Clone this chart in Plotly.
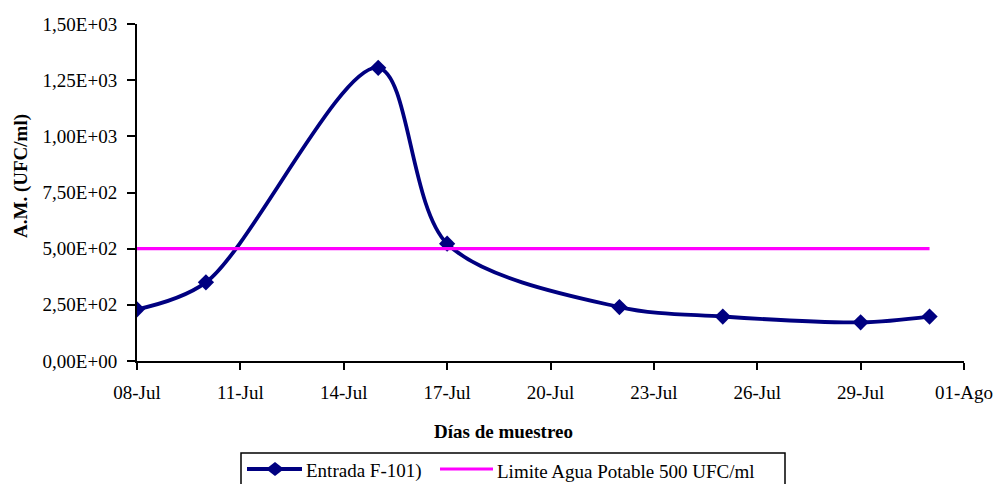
import plotly.graph_objects as go

dates = ["2024-07-08", "2024-07-10", "2024-07-15", "2024-07-17",
         "2024-07-22", "2024-07-25", "2024-07-29", "2024-07-31"]
entrada = [230, 350, 1305, 522, 240, 198, 172, 198]
limite = [500, 500, 500, 500, 500, 500, 500, 500]

xtick_vals = ["2024-07-08", "2024-07-11", "2024-07-14", "2024-07-17", "2024-07-20",
              "2024-07-23", "2024-07-26", "2024-07-29", "2024-08-01"]
xtick_text = ["08-Jul", "11-Jul", "14-Jul", "17-Jul", "20-Jul",
              "23-Jul", "26-Jul", "29-Jul", "01-Ago"]
ytick_vals = [0, 250, 500, 750, 1000, 1250, 1500]
ytick_text = ["0,00E+00", "2,50E+02", "5,00E+02", "7,50E+02",
              "1,00E+03", "1,25E+03", "1,50E+03"]
series_names = ["Entrada F-101)", "Limite Agua Potable 500 UFC/ml"]
NAVY = "#000080"
MAGENTA = "#FF00FF"

font_family = "'Times New Roman', 'Liberation Serif', serif"
FS = 19
W, H = 997, 484
ML, MR, MT, MB = 137, 33, 24, 123
PW, PH = W - ML - MR, H - MT - MB


def px(x):
    return (x - ML) / PW


def py(y):
    return (H - MB - y) / PH


fig = go.Figure()
fig.add_trace(go.Scatter(
    x=dates, y=entrada, name=series_names[0], mode="lines+markers",
    line=dict(color=NAVY, width=3.8, shape="spline", smoothing=0.9),
    marker=dict(symbol="diamond", size=12.5, color=NAVY),
    showlegend=False,
))
fig.add_trace(go.Scatter(
    x=dates, y=limite, name=series_names[1], mode="lines",
    line=dict(color=MAGENTA, width=3.2),
    showlegend=False,
))

# legend drawn as shapes + annotations
ly = 469
shapes = [
    dict(type="rect", xref="paper", yref="paper", x0=px(241), x1=px(785),
         y0=py(453), y1=py(495), line=dict(color="black", width=1.5), fillcolor="white",
         layer="below"),
    dict(type="line", xref="paper", yref="paper", x0=px(247), x1=px(302),
         y0=py(ly), y1=py(ly), line=dict(color=NAVY, width=3.8)),
    dict(type="path", xref="paper", yref="paper",
         path=f"M{px(266)},{py(ly)} L{px(275)},{py(ly-7)} L{px(284)},{py(ly)} "
              f"L{px(275)},{py(ly+7)} Z",
         fillcolor=NAVY, line=dict(color=NAVY, width=0)),
    dict(type="line", xref="paper", yref="paper", x0=px(440), x1=px(493),
         y0=py(ly), y1=py(ly), line=dict(color=MAGENTA, width=3.2)),
]
annotations = [
    dict(text=series_names[0], xref="paper", yref="paper", x=px(304), y=py(471),
         xanchor="left", yanchor="middle", showarrow=False, font=dict(size=FS)),
    dict(text=series_names[1], xref="paper", yref="paper", x=px(495), y=py(471),
         xanchor="left", yanchor="middle", showarrow=False, font=dict(size=FS)),
    dict(text="<b>A.M. (UFC/ml)</b>", textangle=-90, xref="paper", yref="paper",
         x=px(21), y=py(176), xanchor="center", yanchor="middle", showarrow=False,
         font=dict(size=FS)),
    dict(text="<b>Días de muestreo</b>", xref="paper", yref="paper",
         x=px(503), y=py(431), xanchor="center", yanchor="middle", showarrow=False,
         font=dict(size=FS)),
]

fig.update_layout(
    width=W, height=H,
    margin=dict(l=ML, r=MR, t=MT, b=MB),
    paper_bgcolor="white", plot_bgcolor="white",
    font=dict(family=font_family, size=FS, color="black"),
    showlegend=False,
    shapes=shapes, annotations=annotations,
)
fig.update_xaxes(
    type="date", range=["2024-07-08", "2024-08-01"],
    tickvals=xtick_vals, ticktext=xtick_text, automargin=False,
    showline=True, linecolor="black", linewidth=2,
    ticks="outside", ticklen=7, tickwidth=2, tickcolor="black",
    ticklabelstandoff=6,
    showgrid=False, zeroline=False,
)
fig.update_yaxes(
    range=[0, 1500], tickvals=ytick_vals, ticktext=ytick_text, automargin=False,
    showline=True, linecolor="black", linewidth=2,
    ticks="outside", ticklen=8, tickwidth=2, tickcolor="black",
    ticklabelstandoff=6,
    showgrid=False, zeroline=False,
)

fig.write_html("out.html")
